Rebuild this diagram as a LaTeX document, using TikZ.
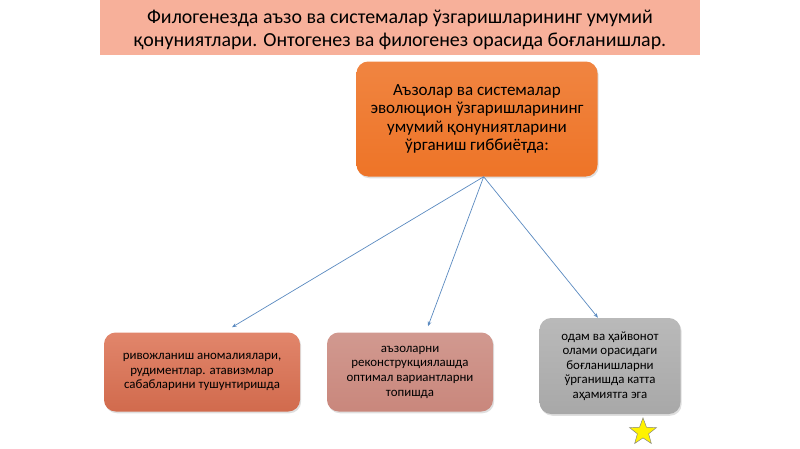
\documentclass[tikz,border=0pt]{standalone}
\usepackage{fontspec}
\setmainfont{Carlito}
\usetikzlibrary{arrows.meta,shapes.geometric,shadows}
\definecolor{titlefill}{HTML}{F7B09A}
\definecolor{topfill}{HTML}{EE7427}
\definecolor{leftfill}{HTML}{DC7051}
\definecolor{midfill}{HTML}{C9877C}
\definecolor{rightfill}{HTML}{A8A8A8}
\definecolor{linkcol}{HTML}{5A8AC0}

\begin{document}
\begin{tikzpicture}[x=0.03cm,y=-0.03cm,
  box/.style={rounded corners=0.35cm,align=center,inner sep=2pt,
    drop shadow={opacity=0.25,shadow xshift=1pt,shadow yshift=-1.5pt}},
  small/.style={box,font=\fontsize{11}{12.5}\selectfont},
  link/.style={draw=linkcol,line width=0.6pt,-{Stealth[length=4pt,width=3pt]}}]
\useasboundingbox (0,0) rectangle (800,449);
% title
\fill[titlefill] (100,0) rectangle (700,55);
\node[align=center,font=\fontsize{17}{19}\selectfont] (title) at (400,30)
  {Филогенезда аъзо ва системалар ўзгаришларининг умумий\\
   қонуниятлари. Онтогенез ва филогенез орасида боғланишлар.};
% main box
\node[box,top color=topfill!88!white,bottom color=topfill,
  minimum width=241*0.03cm,minimum height=115*0.03cm,
  font=\fontsize{14.5}{15.5}\selectfont] (top) at (477,119)
  {Аъзолар ва системалар\\ эволюцион ўзгаришларининг\\
   умумий қонуниятларини\\ ўрганиш гиббиётда:};
% lower boxes
\node[small,top color=leftfill!85!white,bottom color=leftfill!95!black,
  minimum width=196*0.03cm,minimum height=79*0.03cm] (b1) at (202,372)
  {ривожланиш аномалиялари,\\ рудиментлар. атавизмлар\\ сабабларини тушунтиришда};
\node[small,top color=midfill!85!white,bottom color=midfill,
  minimum width=166*0.03cm,minimum height=79*0.03cm] (b2) at (410,372)
  {аъзоларни\\ реконструкциялашда\\ оптимал вариантларни\\ топишда};
\node[small,top color=rightfill!80!white,bottom color=rightfill,
  minimum width=141*0.03cm,minimum height=96*0.03cm] (b3) at (610,366)
  {одам ва ҳайвонот\\ олами орасидаги\\ боғланишларни\\ ўрганишда катта\\ аҳамиятга эга};
% connectors
\coordinate (hub) at ([xshift=0.2cm]top.south);
\draw[link] (hub) -- ([xshift=0.9cm,yshift=0.15cm]b1.north);
\draw[link] (hub) -- ([xshift=0.54cm,yshift=0.18cm]b2.north);
\draw[link] (hub) -- ([xshift=-0.36cm]b3.north);
% star
\node[star,star points=5,star point ratio=2.4,fill=yellow,draw=gray,
  line width=0.4pt,minimum size=0.85cm,inner sep=0pt] (mark) at (643,432) {};
\end{tikzpicture}
\end{document}
